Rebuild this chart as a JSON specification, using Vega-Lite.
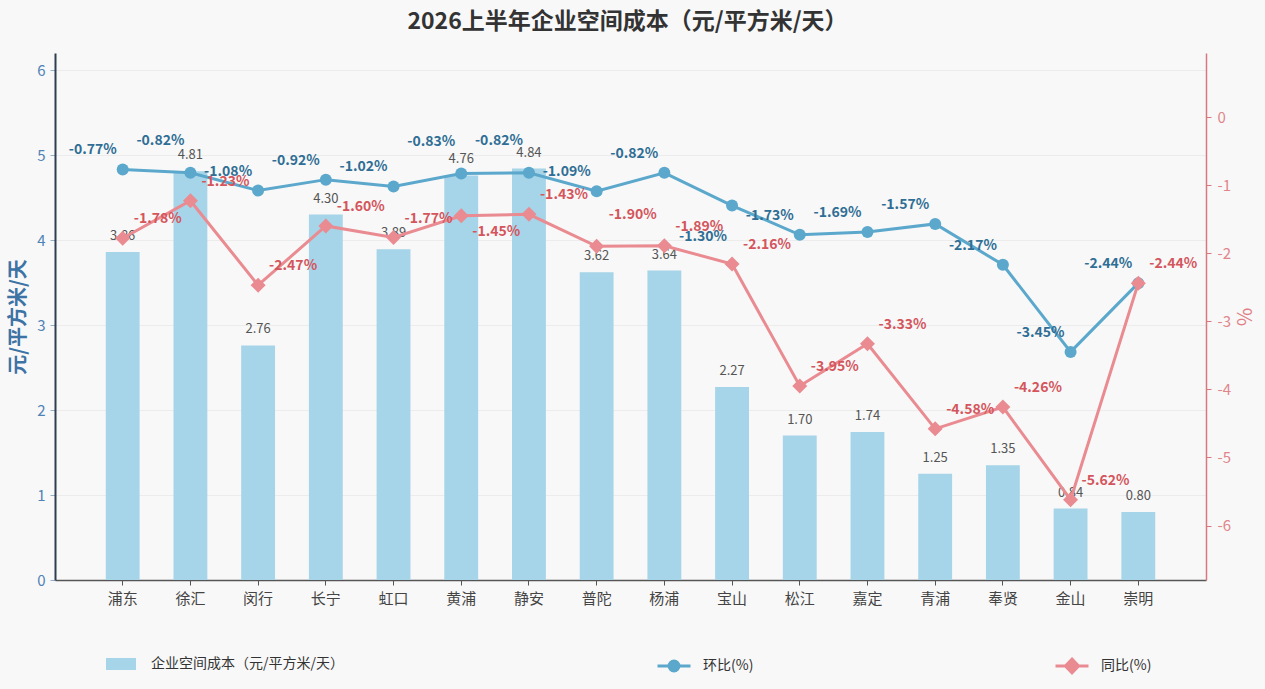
{
  "$schema": "https://vega.github.io/schema/vega-lite/v6.json",
  "description": "2026上半年企业空间成本",
  "autosize": "none",
  "width": 1151,
  "height": 527,
  "padding": {"left": 55, "top": 53, "right": 59, "bottom": 109},
  "background": "#f8f8f8",
  "config": {
    "view": {"stroke": null},
    "font": "Noto Sans CJK SC",
    "axis": {"labelFont": "Noto Sans CJK SC", "titleFont": "Noto Sans CJK SC"},
    "legend": {"labelFont": "Noto Sans CJK SC"}
  },
  "title": {
    "text": "2026上半年企业空间成本（元/平方米/天）",
    "fontSize": 23,
    "fontWeight": "bold",
    "color": "#333333",
    "anchor": "middle",
    "offset": 19,
    "dx": -3
  },
  "data": {
    "values": [
      {"district": "浦东", "cost": 3.86, "hb": -0.77, "tb": -1.78},
      {"district": "徐汇", "cost": 4.81, "hb": -0.82, "tb": -1.23},
      {"district": "闵行", "cost": 2.76, "hb": -1.08, "tb": -2.47},
      {"district": "长宁", "cost": 4.30, "hb": -0.92, "tb": -1.60},
      {"district": "虹口", "cost": 3.89, "hb": -1.02, "tb": -1.77},
      {"district": "黄浦", "cost": 4.76, "hb": -0.83, "tb": -1.45},
      {"district": "静安", "cost": 4.84, "hb": -0.82, "tb": -1.43},
      {"district": "普陀", "cost": 3.62, "hb": -1.09, "tb": -1.90},
      {"district": "杨浦", "cost": 3.64, "hb": -0.82, "tb": -1.89},
      {"district": "宝山", "cost": 2.27, "hb": -1.30, "tb": -2.16},
      {"district": "松江", "cost": 1.70, "hb": -1.73, "tb": -3.95},
      {"district": "嘉定", "cost": 1.74, "hb": -1.69, "tb": -3.33},
      {"district": "青浦", "cost": 1.25, "hb": -1.57, "tb": -4.58},
      {"district": "奉贤", "cost": 1.35, "hb": -2.17, "tb": -4.26},
      {"district": "金山", "cost": 0.84, "hb": -3.45, "tb": -5.62},
      {"district": "崇明", "cost": 0.80, "hb": -2.44, "tb": -2.44}
    ]
  },
  "encoding": {
    "x": {
      "field": "district",
      "type": "nominal",
      "sort": null,
      "scale": {"paddingInner": 0.5, "paddingOuter": 0.75},
      "axis": {
        "title": null,
        "labelAngle": 0,
        "labelFontSize": 15,
        "labelColor": "#444444",
        "labelPadding": 6,
        "domainColor": "#555555",
        "domainWidth": 1.5,
        "tickColor": "#555555",
        "tickSize": 5,
        "grid": false
      }
    }
  },
  "layer": [
    {
      "encoding": {
        "y": {
          "field": "cost",
          "type": "quantitative",
          "scale": {"domain": [0, 6.2], "nice": false},
          "axis": {
            "orient": "left",
            "values": [0, 1, 2, 3, 4, 5, 6],
            "title": "元/平方米/天",
            "titleFontSize": 20,
            "titleFontWeight": "bold",
            "titleColor": "#3d73a5",
            "titlePadding": 8,
            "labelFontSize": 15,
            "labelColor": "#4f83b5",
            "labelPadding": 5,
            "domainColor": "#2c3e50",
            "domainWidth": 2,
            "tickColor": "#8fb0cc",
            "tickSize": 5,
            "grid": true,
            "gridColor": "#ececec",
            "gridWidth": 1
          }
        }
      },
      "layer": [
        {
          "mark": {"type": "bar", "color": "#a6d4e8"},
          "encoding": {
            "color": {
              "datum": "企业空间成本（元/平方米/天）",
              "type": "nominal",
              "scale": {"range": ["#a6d4e8"]},
              "legend": {
                "orient": "none",
                "legendX": 51,
                "legendY": 596,
                "title": null,
                "padding": 0,
                "labelFontSize": 14,
                "labelColor": "#333333",
                "labelOffset": 15,
                "labelLimit": 400,
                "symbolType": "M-1,-0.4L1,-0.4L1,0.4L-1,0.4Z",
                "symbolSize": 900,
                "symbolStrokeWidth": 0
              }
            }
          }
        },
        {
          "mark": {"type": "text", "dy": -16, "fontSize": 13, "color": "#555555"},
          "encoding": {"text": {"field": "cost", "type": "quantitative", "format": ".2f"}}
        }
      ]
    },
    {
      "transform": [{"fold": ["hb", "tb"], "as": ["series", "pct"]}],
      "encoding": {
        "y": {
          "field": "pct",
          "type": "quantitative",
          "scale": {"domain": [-6.8, 0.94], "nice": false, "zero": false},
          "axis": {
            "orient": "right",
            "values": [-6, -5, -4, -3, -2, -1, 0],
            "labelExpr": "replace(datum.label, '−', '-')",
            "title": "%",
            "titleFontSize": 20,
            "titleFontWeight": "normal",
            "titleColor": "#e07f85",
            "titlePadding": 2,
            "labelFontSize": 15,
            "labelColor": "#e0868b",
            "labelPadding": 6,
            "domainColor": "#d9777f",
            "domainWidth": 1.5,
            "tickColor": "#d9777f",
            "tickSize": 5,
            "grid": false
          }
        }
      },
      "layer": [
        {
          "transform": [{"filter": "datum.series === 'hb'"}],
          "mark": {"type": "line", "color": "#5ba8cc", "strokeWidth": 3}
        },
        {
          "transform": [{"filter": "datum.series === 'hb'"}],
          "mark": {"type": "point", "shape": "circle", "filled": true, "size": 144, "opacity": 1},
          "encoding": {
            "color": {
              "datum": "环比(%)",
              "type": "nominal",
              "scale": {"range": ["#5ba8cc"]},
              "legend": {
                "orient": "none",
                "legendX": 601,
                "legendY": 595,
                "title": null,
                "padding": 0,
                "labelFontSize": 14,
                "labelColor": "#333333",
                "labelOffset": 11,
                "symbolType": "M-1,0L1,0M0.3,0A0.3,0.3,0,1,1,-0.3,0A0.3,0.3,0,1,1,0.3,0Z",
                "symbolSize": 1089,
                "symbolStrokeColor": "#5ba8cc",
                "symbolStrokeWidth": 3,
                "symbolOpacity": 1
              }
            }
          }
        },
        {
          "transform": [{"filter": "datum.series === 'tb'"}],
          "mark": {"type": "line", "color": "#e98b91", "strokeWidth": 3}
        },
        {
          "transform": [{"filter": "datum.series === 'tb'"}],
          "mark": {"type": "point", "shape": "diamond", "filled": true, "size": 225, "opacity": 1},
          "encoding": {
            "color": {
              "datum": "同比(%)",
              "type": "nominal",
              "scale": {"range": ["#e98b91"]},
              "legend": {
                "orient": "none",
                "legendX": 999,
                "legendY": 595,
                "title": null,
                "padding": 0,
                "labelFontSize": 14,
                "labelColor": "#333333",
                "labelOffset": 11,
                "symbolType": "M-1,0L1,0M0,-0.42L0.4,0L0,0.42L-0.4,0Z",
                "symbolSize": 1089,
                "symbolStrokeColor": "#e98b91",
                "symbolStrokeWidth": 3,
                "symbolOpacity": 1
              }
            }
          }
        },
        {
          "transform": [{"filter": "datum.series === 'tb' && indexof(['黄浦', '普陀'], datum.district) < 0"}],
          "mark": {"type": "text", "dx": 35, "dy": -19, "fontSize": 14, "fontWeight": "bold", "color": "#d4555c", "text": {"expr": "(datum.pct < 0 ? '-' : '') + format(abs(datum.pct), '.2f') + '%'"}}
        },
        {
          "transform": [{"filter": "datum.series === 'tb' && datum.district === '黄浦'"}],
          "mark": {"type": "text", "dx": 35, "dy": 16, "fontSize": 14, "fontWeight": "bold", "color": "#d4555c", "text": {"expr": "(datum.pct < 0 ? '-' : '') + format(abs(datum.pct), '.2f') + '%'"}}
        },
        {
          "transform": [{"filter": "datum.series === 'tb' && datum.district === '普陀'"}],
          "mark": {"type": "text", "dx": 36, "dy": -31, "fontSize": 14, "fontWeight": "bold", "color": "#d4555c", "text": {"expr": "(datum.pct < 0 ? '-' : '') + format(abs(datum.pct), '.2f') + '%'"}}
        },
        {
          "transform": [{"filter": "datum.series === 'hb' && indexof(['徐汇', '黄浦', '静安', '宝山'], datum.district) < 0"}],
          "mark": {"type": "text", "dx": -30, "dy": -19, "fontSize": 14, "fontWeight": "bold", "color": "#2f6e95", "text": {"expr": "(datum.pct < 0 ? '-' : '') + format(abs(datum.pct), '.2f') + '%'"}}
        },
        {
          "transform": [{"filter": "datum.series === 'hb' && indexof(['徐汇', '黄浦', '静安'], datum.district) >= 0"}],
          "mark": {"type": "text", "dx": -30, "dy": -32, "fontSize": 14, "fontWeight": "bold", "color": "#2f6e95", "text": {"expr": "(datum.pct < 0 ? '-' : '') + format(abs(datum.pct), '.2f') + '%'"}}
        },
        {
          "transform": [{"filter": "datum.series === 'hb' && datum.district === '宝山'"}],
          "mark": {"type": "text", "dx": -29, "dy": 31, "fontSize": 14, "fontWeight": "bold", "color": "#2f6e95", "text": {"expr": "(datum.pct < 0 ? '-' : '') + format(abs(datum.pct), '.2f') + '%'"}}
        }
      ],
      "resolve": {"scale": {"color": "independent"}}
    }
  ],
  "resolve": {"scale": {"y": "independent", "color": "independent"}}
}
